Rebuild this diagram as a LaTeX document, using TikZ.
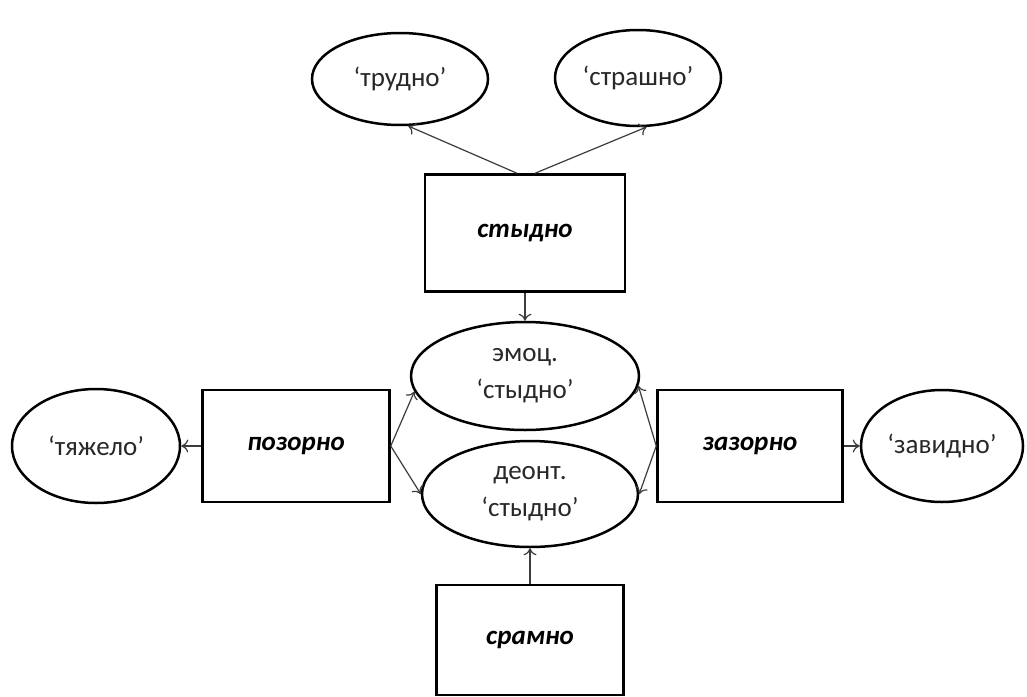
\documentclass[tikz,border=0pt]{standalone}
\usepackage{fontspec}
\setmainfont{Carlito}
\usepackage{tikz}
\usetikzlibrary{shapes.geometric}
\usetikzlibrary{arrows.meta}
\definecolor{inkgray}{RGB}{40, 40, 40}
\definecolor{linegray}{RGB}{60, 60, 60}

\tikzset{
    sense/.style={draw=black, line width=2.5pt, ellipse, inner sep=0pt, text=inkgray,
                  font=\fontsize{27}{37}\selectfont, align=center},
    lexeme/.style={draw=black, line width=2.5pt, rectangle, inner sep=0pt, text=black,
                   font=\fontsize{27}{32}\selectfont\bfseries\itshape},
    link/.style={line width=1.2pt, linegray, -{To[length=7pt,width=13pt]}}
}

\begin{document}
\begin{tikzpicture}[x=1pt, y=-1pt]
            \useasboundingbox[fill=white] (0,0) rectangle (1027,696);
            \node[sense, minimum width=176pt, minimum height=92pt] (trudno)   at (400, 79) {‘трудно’};
            \node[sense, minimum width=166pt, minimum height=96pt] (strashno) at (638, 78) {‘страшно’};
            \node[lexeme, minimum width=200pt, minimum height=117pt] (stydno) at (525, 233) {стыдно};
            \node[sense, minimum width=228pt, minimum height=108pt] (emoc)    at (525, 376) {эмоц.\\‘стыдно’};
            \node[sense, minimum width=216pt, minimum height=106pt] (deont)   at (530, 494) {деонт.\\‘стыдно’};
            \node[lexeme, minimum width=187pt, minimum height=112pt] (pozorno) at (296, 446) {позорно};
            \node[sense, minimum width=168pt, minimum height=114pt] (tyazhelo) at (96, 446) {‘тяжело’};
            \node[lexeme, minimum width=185pt, minimum height=112pt] (zazorno) at (750, 446) {зазорно};
            \node[sense, minimum width=162pt, minimum height=112pt] (zavidno)  at (942, 446) {‘завидно’};
            \node[lexeme, minimum width=187pt, minimum height=110pt] (sramno)  at (530, 640) {срамно};

            \draw[link] ([xshift=-8pt]stydno.north) -- (trudno.-80);
            \draw[link] ([xshift=10pt]stydno.north) -- (strashno.-80);
            \draw[link] (stydno.south) -- (emoc.north);
            \draw[link] (pozorno.east) -- (emoc.188);
            \draw[link] (pozorno.east) -- (deont.west);
            \draw[link] (zazorno.west) -- (emoc.-5);
            \draw[link] (zazorno.west) -- (deont.east);
            \draw[link] (pozorno) -- (tyazhelo);
            \draw[link] (zazorno) -- (zavidno);
            \draw[link] (sramno) -- (deont);
        \end{tikzpicture}
\end{document}
